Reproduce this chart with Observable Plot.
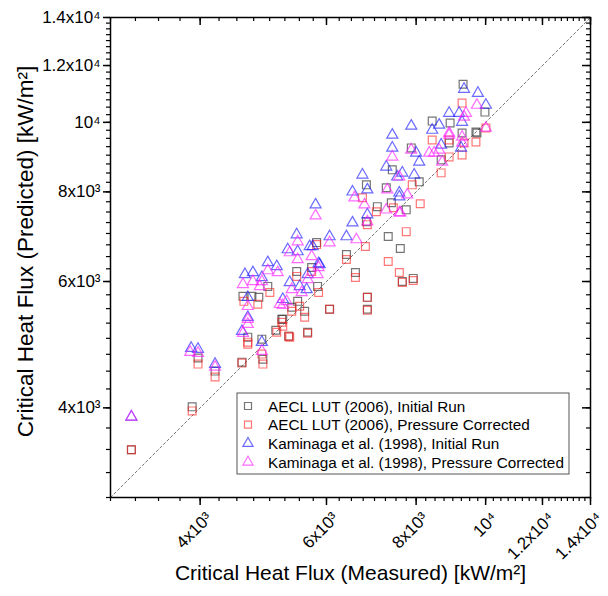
<!DOCTYPE html>
<html><head><meta charset="utf-8">
<script src="https://cdn.jsdelivr.net/npm/d3@7"></script>
<script src="https://cdn.jsdelivr.net/npm/@observablehq/plot@0.6"></script>
<style>body{margin:0;background:#fff;}</style>
</head><body><div id="chart"></div>
<script>
// ---- data (values in kW/m²) ----
const aeclInitX = [3208,3899,3973,4196,4574,4661,4892,5099,5215,5316,4589,4723,4829,4970,5453,5721,5813,5831,5470,5367,5594,5648,6060,6397,6584,6820,6820,7063,7388,7750,7315,7604,7653,7926,6841,6841,7411,7269,7876,8080,8423,8922,8669,8894,9271,9724,9301,9977,9693,5198,4876];
const aeclInitY = [3496,4013,4693,4501,4632,5019,4676,5131,5316,5035,5721,5721,5703,5907,6196,6277,6798,5907,5630,5524,5453,5099,5489,6543,6176,7269,8183,7629,7726,7552,6931,6670,6002,6060,5489,5703,8586,8106,9212,8261,10040,9977,8866,9359,9663,9663,11303,10334,9693,5316,4987];
const aeclCorrX = [3208,3899,3973,4196,4574,4661,4892,5115,5215,5316,4813,4603,5003,5506,5367,5594,5648,6060,5198,5453,5813,5850,6397,6584,6798,6841,6734,7041,7435,7750,7315,7580,7653,6841,6841,8106,7901,8669,8423,8894,9330,9693,9271,10008,8894,9271,5333,4876,4661,5721,7926];
const aeclCorrY = [3496,3961,4603,4416,4618,4939,4603,5099,5198,5035,5577,5630,5794,5541,5453,5350,5083,5489,5266,6099,6755,5794,6439,6079,6713,7201,7851,7505,7604,7041,6398,6176,5983,5703,5470,7701,8183,8503,9450,8951,9359,9389,10637,9820,9450,9008,5019,4753,4907,6196,6021];
const kamInitX = [3208,3886,3973,4196,4574,4661,4876,4618,4738,4876,4970,5115,5215,5333,5506,5630,4661,5298,5470,5685,5740,5453,5850,5648,5794,6060,6397,6522,6522,6734,6841,6841,7529,7580,7411,7876,7411,7269,7653,7951,7580,8001,8080,8423,8669,8614,8894,9183,9271,9330,9755,10008,9242,5870];
const kamInitY = [3886,4845,4829,4603,5115,5350,4939,6138,6176,6079,6377,6297,5667,5983,5907,5850,5703,6648,6605,6713,6713,6975,6357,6138,7677,6931,6931,7246,8001,8449,8054,7435,8396,7876,9602,9883,9212,8669,8503,8449,7976,9065,8807,9755,9301,9914,10301,10301,10008,11125,10982,10570,9212,6337];
const kamCorrX = [3208,3874,3973,4196,4589,4661,4876,4661,4661,4738,4876,4970,5131,5281,5367,5541,4589,4845,5165,5333,5470,5721,5470,5850,5831,5794,6060,6605,6841,6563,6777,7269,7604,7411,7876,8476,7580,7292,7776,7580,8894,9271,9389,9724,10008,9330,8894,9271,8614,8343,8697,5215,5648];
const kamCorrY = [3886,4783,4768,4560,5083,5232,4798,5541,5316,6002,6002,6215,6176,5630,5850,5794,5945,5907,5577,6584,6439,6501,6820,6277,6138,7411,6798,6865,7269,7851,7677,7552,7482,8951,9153,9065,8396,8054,7926,7482,9602,9359,10301,10570,9820,10172,9663,9542,9153,9065,8807,5559,6040];

const seriesNames = ["AECL LUT (2006), Initial Run", "AECL LUT (2006), Pressure Corrected", "Kaminaga et al. (1998), Initial Run", "Kaminaga et al. (1998), Pressure Corrected"];
const majorTicks = [4000, 6000, 8000, 10000, 12000, 14000];
const majorLabels = ["4x10³", "6x10³", "8x10³", "10⁴", "1.2x10⁴", "1.4x10⁴"];
const minorTicks = d3.range(3000, 14001, 250);
const axisDomain = [3000, 14000];
const xTitle = "Critical Heat Flux (Measured) [kW/m²]";
const yTitle = "Critical Heat Flux (Predicted) [kW/m²]";

// ---- styling ----
const series = [
  {name: seriesNames[0], xs: aeclInitX, ys: aeclInitY, symbol: "square", color: "#3a3a3a", op: 0.7, r: 4.4},
  {name: seriesNames[1], xs: aeclCorrX, ys: aeclCorrY, symbol: "square", color: "#ff1a1a", op: 0.6, r: 4.4},
  {name: seriesNames[2], xs: kamInitX, ys: kamInitY, symbol: "triangle", color: "#1a1aff", op: 0.65, r: 4.1},
  {name: seriesNames[3], xs: kamCorrX, ys: kamCorrY, symbol: "triangle", color: "#ff1aff", op: 0.65, r: 4.1}
];
const W = 608, H = 596, mL = 110, mR = 18, mT = 17, mB = 99;
const plotH = H - mT - mB, plotW = W - mL - mR;
const FONT = "Arial, 'Liberation Sans', sans-serif";
const fmt = d => majorLabels[majorTicks.indexOf(d)];

const plot = Plot.plot({
  width: W, height: H,
  marginLeft: mL, marginRight: mR, marginTop: mT, marginBottom: mB,
  style: {fontFamily: FONT, fontSize: "17px", color: "black", background: "white"},
  x: {type: "log", domain: axisDomain, axis: null},
  y: {type: "log", domain: axisDomain, axis: null},
  marks: [
    Plot.line([[axisDomain[0], axisDomain[0]], [axisDomain[1], axisDomain[1]]], {stroke: "#777", strokeWidth: 1, strokeDasharray: "2.5,2.5"}),
    ...series.map(s => Plot.dot(s.xs.map((v, i) => ({x: v, y: s.ys[i]})), {
      x: "x", y: "y", symbol: s.symbol, r: s.r, fill: "none",
      stroke: s.color, strokeOpacity: s.op, strokeWidth: 1.2
    })),
    // bottom (outward)
    Plot.tickX(minorTicks, {x: d => d, insetTop: plotH, insetBottom: -4, stroke: "black", strokeWidth: 1.2}),
    Plot.tickX(majorTicks, {x: d => d, insetTop: plotH, insetBottom: -8, stroke: "black", strokeWidth: 1.5}),
    // top (inward)
    Plot.tickX(minorTicks, {x: d => d, insetBottom: plotH - 4, stroke: "black", strokeWidth: 1.2}),
    Plot.tickX(majorTicks, {x: d => d, insetBottom: plotH - 8, stroke: "black", strokeWidth: 1.5}),
    // left (outward)
    Plot.tickY(minorTicks, {y: d => d, insetRight: plotW, insetLeft: -4, stroke: "black", strokeWidth: 1.2}),
    Plot.tickY(majorTicks, {y: d => d, insetRight: plotW, insetLeft: -7, stroke: "black", strokeWidth: 1.5}),
    // right (inward)
    Plot.tickY(minorTicks, {y: d => d, insetLeft: plotW - 4, stroke: "black", strokeWidth: 1.2}),
    Plot.tickY(majorTicks, {y: d => d, insetLeft: plotW - 8, stroke: "black", strokeWidth: 1.5}),
    // tick labels
    Plot.text(majorTicks, {x: d => d, text: fmt, frameAnchor: "bottom", rotate: -45, textAnchor: "end", lineAnchor: "middle", dx: 9, dy: 18, fontSize: 17}),
    Plot.text(majorTicks, {y: d => d, text: fmt, frameAnchor: "left", textAnchor: "end", dx: -10, fontSize: 17}),
    // titles
    Plot.text([xTitle], {text: d => d, frameAnchor: "bottom", dy: 82, fontSize: 21}),
    Plot.text([yTitle], {text: d => d, frameAnchor: "left", rotate: -90, textAnchor: "middle", dx: -85, dy: -6, fontSize: 22.5}),
    Plot.frame({stroke: "black", strokeWidth: 1.5})
  ]
});

// legend inside the plot area
const svg = d3.select(plot);
const lg = svg.append("g").attr("font-family", FONT).attr("font-size", 15.3).attr("text-anchor", "start");
const LX = 237, LY = 393, LW = 332, LH = 81, rowH = 18.7;
lg.append("rect").attr("x", LX).attr("y", LY).attr("width", LW).attr("height", LH)
  .attr("fill", "white").attr("stroke", "#555").attr("stroke-width", 1);
series.forEach((s, i) => {
  const cy = LY + 13 + i * rowH;
  const sym = s.symbol === "square" ? d3.symbol(d3.symbolSquare, 49) : d3.symbol(d3.symbolTriangle, 45);
  lg.append("path").attr("d", sym()).attr("transform", `translate(${LX + 11},${cy})`)
    .attr("fill", "none").attr("stroke", s.color).attr("stroke-opacity", s.op).attr("stroke-width", 1.2);
  lg.append("text").attr("x", LX + 31).attr("y", cy).attr("dy", "0.36em").attr("fill", "black")
    .attr("text-anchor", "start").text(s.name);
});

document.getElementById("chart").appendChild(plot);
</script>
</body></html>
